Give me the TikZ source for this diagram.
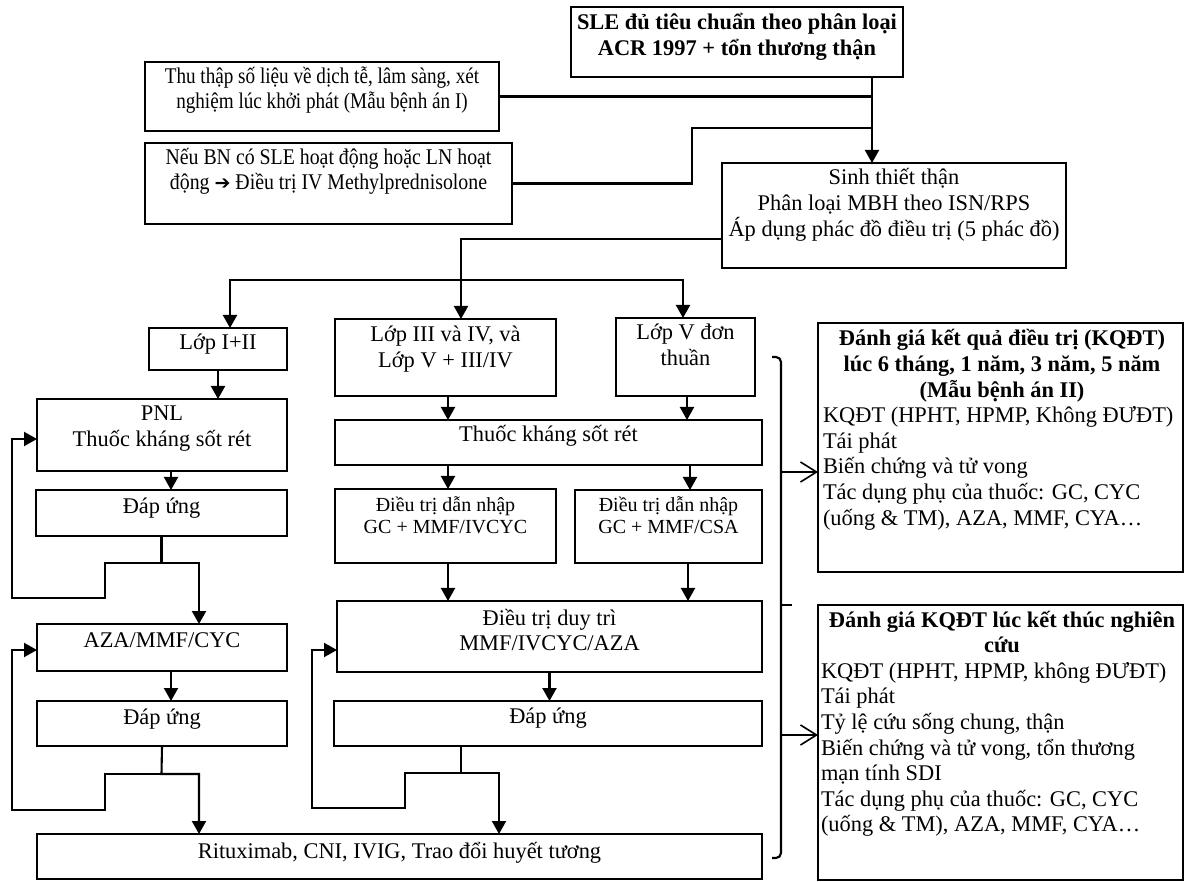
\documentclass[tikz,border=0pt]{standalone}
\usepackage{fontspec}
\setmainfont{Liberation Serif}
\newfontfamily\djv{DejaVu Sans}
\newfontfamily\condA[FakeStretch=0.855]{Liberation Serif}
\newfontfamily\condB[FakeStretch=0.885]{Liberation Serif}
\usetikzlibrary{arrows.meta,calc,fit}
\newcommand{\fs}{\fontsize{11.2}{12.8}\selectfont}
\newcommand{\fss}{\fontsize{10}{11}\selectfont}
\newcommand{\fst}{\condA\fontsize{11.2}{12.4}\selectfont}
\newcommand{\fsn}{\condB\fontsize{11.2}{12.2}\selectfont}
\newcommand{\mkbox}[5]{%
  \coordinate (#1-a) at (#2,#3);
  \coordinate (#1-b) at (#4,#5);
  \node[box, fit=(#1-a)(#1-b)] (#1) {};}
\newcommand{\mktext}[3]{%
  \node[txt] (#1-t) at ($(#1.north)+(0,#2)$) {\parbox[t]{230pt}{\centering #3}};}
\tikzset{
  box/.style={draw, line width=1.2pt, inner sep=0pt, outer sep=0pt},
  txt/.style={inner sep=0pt, outer sep=0pt, anchor=base, font=\fs},
  ln/.style={line width=1.05pt},
  arr/.style={ln, -{Triangle[length=6.5pt,width=7pt]}},
  oarr/.style={line width=0.9pt, -{Straight Barb[length=8pt,width=10pt,line width=0.8pt]}},
}
\begin{document}
\begin{tikzpicture}[x=0.5pt,y=-0.5pt]
\useasboundingbox (0,0) rectangle (1185,882);
% boxes
\mkbox{sle}{571}{7}{903}{77}
\mkbox{thu}{145}{62}{499}{131}
\mkbox{neu}{145}{143}{512}{224}
\mkbox{sinh}{722}{163}{1066}{268}
\mkbox{lop12}{149}{328}{287}{370}
\mkbox{lop3}{335}{319}{556}{396}
\mkbox{lop5}{616}{318}{755}{396}
\mkbox{pnl}{37}{399}{287}{471}
\mkbox{dap1}{36}{490}{287}{536}
\mkbox{aza}{37}{624}{287}{671}
\mkbox{dap2}{37}{701}{287}{746}
\mkbox{thm}{335}{420}{762}{465}
\mkbox{ind1}{335}{489}{556}{563}
\mkbox{ind2}{575}{490}{762}{563}
\mkbox{duy}{337}{601}{762}{672}
\mkbox{dap3}{334}{701}{762}{746}
\mkbox{rit}{37}{834}{762}{879}
\mkbox{ev1}{818}{323}{1183}{572}
\mkbox{ev2}{818}{605}{1183}{880}
% texts
\mktext{sle}{23}{\bfseries SLE đủ tiêu chuẩn theo phân loại\\ACR 1997 + tổn thương thận}
\mktext{thu}{22}{\fst Thu thập số liệu về dịch tễ, lâm sàng, xét\\nghiệm lúc khởi phát (Mẫu bệnh án I)}
\mktext{neu}{22}{\fsn Nếu BN có SLE hoạt động hoặc LN hoạt\\động {\djv\fontsize{9.5}{12}\selectfont ➔} Điều trị IV Methylprednisolone}
\mktext{sinh}{22}{Sinh thiết thận\\Phân loại MBH theo ISN/RPS\\Áp dụng phác đồ điều trị (5 phác đồ)}
\mktext{lop12}{22}{Lớp I+II}
\mktext{lop3}{23}{Lớp III và IV, và\\Lớp V + III/IV}
\mktext{lop5}{22}{Lớp V đơn\\thuần}
\mktext{pnl}{22}{PNL\\Thuốc kháng sốt rét}
\mktext{dap1}{24}{Đáp ứng}
\mktext{aza}{23}{AZA/MMF/CYC}
\mktext{dap2}{23}{Đáp ứng}
\mktext{thm}{22}{Thuốc kháng sốt rét}
\mktext{ind1}{22}{\fss Điều trị dẫn nhập\\GC + MMF/IVCYC}
\mktext{ind2}{21}{\fss Điều trị dẫn nhập\\GC + MMF/CSA}
\mktext{duy}{24}{Điều trị duy trì\\MMF/IVCYC/AZA}
\mktext{dap3}{22}{Đáp ứng}
\mktext{rit}{24}{Rituximab, CNI, IVIG, Trao đổi huyết tương}
\node[txt, anchor=base west] (ev1-t) at ($(ev1.north west)+(5,23)$) {\parbox[t]{179pt}{\centering\bfseries Đánh giá kết quả điều trị (KQĐT)\\lúc 6 tháng, 1 năm, 3 năm, 5 năm\\(Mẫu bệnh án II)\par
\raggedright\mdseries KQĐT (HPHT, HPMP, Không ĐƯĐT)\\Tái phát\\Biến chứng và tử vong\\Tác dụng phụ của thuốc: GC, CYC\\(uống \& TM), AZA, MMF, CYA…}};
\node[txt, anchor=base west] (ev2-t) at ($(ev2.north west)+(3,22)$) {\parbox[t]{181pt}{\centering\bfseries Đánh giá KQĐT lúc kết thúc nghiên\\cứu\par
\raggedright\mdseries KQĐT (HPHT, HPMP, không ĐƯĐT)\\Tái phát\\Tỷ lệ cứu sống chung, thận\\Biến chứng và tử vong, tổn thương\\mạn tính SDI\\Tác dụng phụ của thuốc: GC, CYC\\(uống \& TM), AZA, MMF, CYA…}};
% helper coordinates
\coordinate (X872) at (872,0);
\coordinate (X461) at (461,0);
\coordinate (X230) at (230,0);
\coordinate (X683) at (683,0);
\coordinate (X171) at (171,0);
\coordinate (X199) at (199,0);
\coordinate (X448) at (448,0);
\coordinate (X690) at (690,0);
\coordinate (X688) at (688,0);
\coordinate (X687) at (687,0);
\coordinate (X499) at (499,0);
\coordinate (Y239) at (0,239);
\coordinate (Y439) at (0,439);
\coordinate (Y650) at (0,650);
\coordinate (Y472) at (0,472);
\coordinate (Y735) at (0,735);
% top connectors
\draw[arr] (sle.south -| X872) -- (sinh.north -| X872);
\draw[ln] (thu.east) -- (thu.east -| X872);
\coordinate (nb) at (692,128);
\draw[ln] (neu.east) -| (nb) -- (nb -| X872);
\draw[arr] (sinh.west |- Y239) -| (lop3.north -| X461);
\coordinate (sp) at (461,280);
\draw[arr] (sp) -| (lop12.north -| X230);
\draw[arr] (sp) -| (lop5.north -| X683);
% left column
\draw[arr] (lop12.south) -- (pnl.north -| lop12.south);
\draw[arr] (pnl.south -| X171) -- (dap1.north -| X171);
\coordinate (j1) at (161.5,563);
\draw[arr] (dap1.south) -- (j1) -- (199,563) -- (aza.north -| X199);
\draw[arr] (j1) -- (105,563) -- (105,598) -- (12,598) -- (12,439) -- (pnl.west |- Y439);
\draw[arr] (aza.south -| X171) -- (dap2.north -| X171);
\coordinate (j2) at (161.5,774);
\draw[arr] (dap2.south) -- (j2) -- (199,774) -- (rit.north -| X199);
\draw[arr] (j2) -- (105,774) -- (105,810) -- (12,810) -- (12,650) -- (aza.west |- Y650);
% middle column
\draw[arr] (lop3.south -| X448) -- (thm.north -| X448);
\draw[arr] (lop5.south -| X687) -- (thm.north -| X687);
\draw[arr] (thm.south -| X448) -- (ind1.north -| X448);
\draw[arr] (thm.south -| X690) -- (ind2.north -| X690);
\draw[arr] (ind1.south -| X448) -- (duy.north -| X448);
\draw[arr] (ind2.south -| X688) -- (duy.north -| X688);
\draw[arr] (duy.south) -- (dap3.north -| duy.south);
\coordinate (j3) at (461,773);
\draw[arr] (dap3.south -| X461) -- (j3) -- (499,773) -- (rit.north -| X499);
\draw[arr] (j3) -- (405,773) -- (405,808) -- (312,808) -- (312,650) -- (duy.west |- Y650);
% brace and evaluation arrows
\draw[ln, rounded corners=2.5pt] (772,357) -- (781,357) -- (781,858) -- (772,858);
\draw[ln] (781,605) -- (792,605);
\coordinate (b1) at (781,472);
\coordinate (b2) at (781,735);
\draw[oarr] (b1) -- (ev1.west |- Y472);
\draw[oarr] (b2) -- (ev2.west |- Y735);
\end{tikzpicture}
\end{document}
